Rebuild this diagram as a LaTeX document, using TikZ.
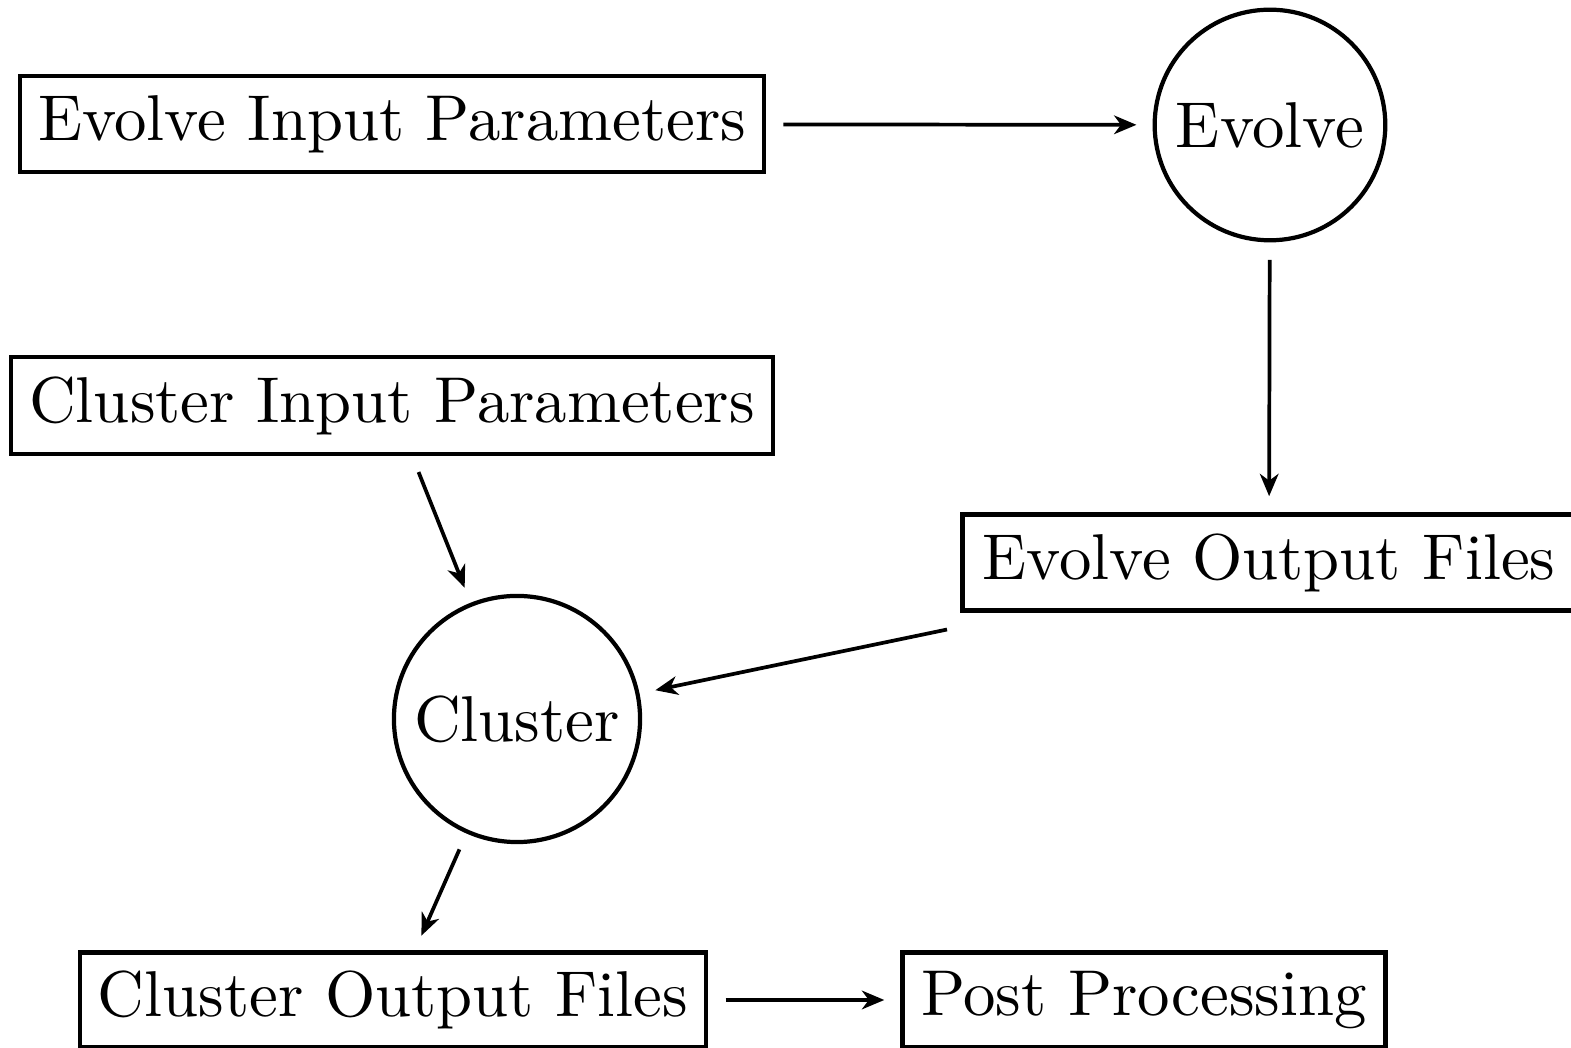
\documentclass[tikz,border=0pt]{standalone}
\usetikzlibrary{arrows.meta}
\begin{document}
\begin{tikzpicture}[x=0.1613pt,y=-0.1613pt,
  box/.style={draw,line width=0.68pt,inner sep=0pt,font=\fontsize{10.45}{12}\selectfont},
  circ/.style={draw,circle,line width=0.68pt,inner sep=0pt,font=\fontsize{10.45}{12}\selectfont},
  arr/.style={-{Stealth[length=3.6pt,width=3pt,inset=1.1pt]},line width=0.6pt,shorten >=2.6pt,shorten <=2.8pt}]
\useasboundingbox (0,0) rectangle (1571,1048);
\clip (0,0) rectangle (1571,1048);
\node[box,minimum width=120pt,minimum height=15.6pt] (eip) at (392,124) {Evolve Input Parameters};
\node[circ,minimum size=37.2pt] (ev) at (1270,125) {Evolve};
\node[box,minimum width=122.9pt,minimum height=15.6pt] (cip) at (392,405.5) {Cluster Input Parameters};
\node[box,minimum width=98.9pt,minimum height=15.5pt] (eof) at (1269,562.5) {Evolve Output Files};
\node[circ,minimum size=39.7pt] (cl) at (517,719) {Cluster};
\node[box,minimum width=101pt,minimum height=15.3pt] (cof) at (393,1000) {Cluster Output Files};
\node[box,minimum width=77.9pt,minimum height=15.3pt] (pp) at (1144,1000) {Post Processing};
\coordinate (eofout) at (964,626);
\draw[arr] (eip) -- (ev);
\draw[arr] (ev) -- (eof);
\draw[arr] (cip) -- (cl);
\draw[arr] (eofout) -- (cl);
\draw[arr] (cl) -- (cof);
\draw[arr] (cof) -- (pp);
\end{tikzpicture}
\end{document}
